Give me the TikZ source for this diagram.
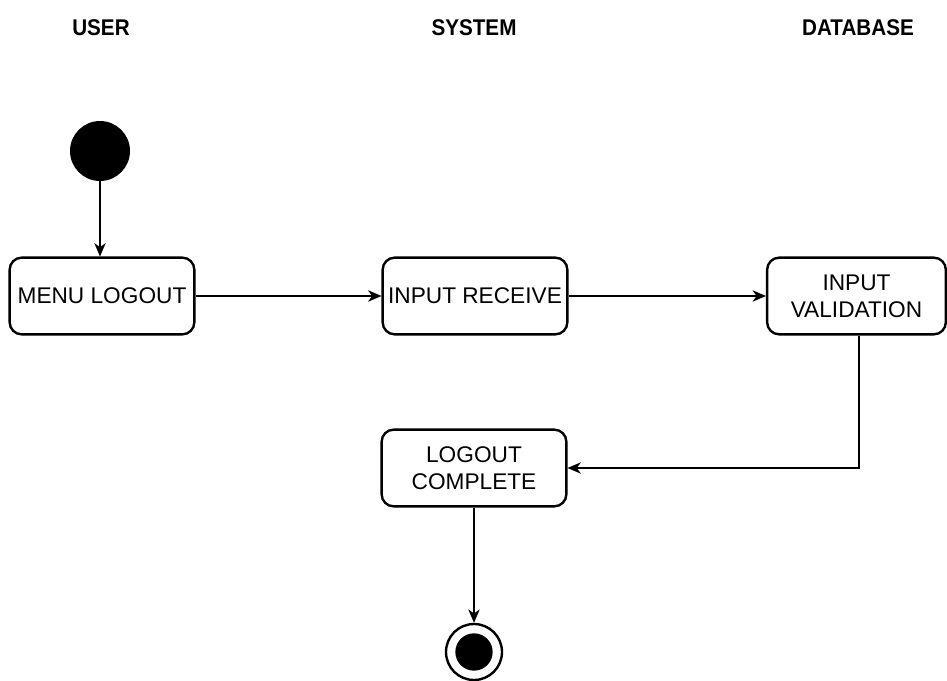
\documentclass[tikz,border=0pt]{standalone}
\usepackage{fontspec}
\setmainfont{Liberation Sans}
\usetikzlibrary{positioning,arrows.meta}

\begin{document}
\begin{tikzpicture}[x=0.75pt,y=-0.75pt,>={Stealth[length=10pt,width=8.5pt,inset=3pt]},
  lane/.style={font=\fontsize{15.5}{18}\selectfont\bfseries,anchor=center,yscale=1.1},
  act/.style={draw,line width=1.8pt,rounded corners=9pt,minimum width=138.5pt,minimum height=57.5pt,
    align=center,font=\fontsize{17}{20.5}\selectfont,inner sep=1pt},
  flow/.style={->,line width=1.1pt},
  init/.style={circle,fill=black,minimum size=45pt,inner sep=0pt},
  final/.style={circle,draw,line width=1.8pt,minimum size=42pt,inner sep=0pt}]
  \useasboundingbox (0,0) rectangle (947,681);
  % swimlane titles
  \node[lane] (user) at (101,28) {USER};
  \node[lane] (sys) at (474,28) {SYSTEM};
  \node[lane] (db) at (858,28) {DATABASE};
  % activities
  \node[init] (start) at (100,151) {};
  \node[act] (menu) at (102,296) {MENU LOGOUT};
  \node[act] (recv) at (475,296) {INPUT RECEIVE};
  \node[act,minimum width=134pt] (valid) at (856.5,296) {INPUT\\VALIDATION};
  \node[act] (done) at (474,468) {LOGOUT\\COMPLETE};
  \node[final] (stop) at (474,652) {};
  \node[circle,fill=black,minimum size=28pt,inner sep=0pt] (stopdot) at (stop) {};
  % transitions
  \draw[flow] (start) -- (start|-menu.north);
  \draw[flow] (menu) -- (recv);
  \draw[flow] (recv) -- (valid);
  \draw[flow] ([xshift=2pt]valid.south) |- (done.east);
  \draw[flow] (done) -- (stop);
\end{tikzpicture}
\end{document}
